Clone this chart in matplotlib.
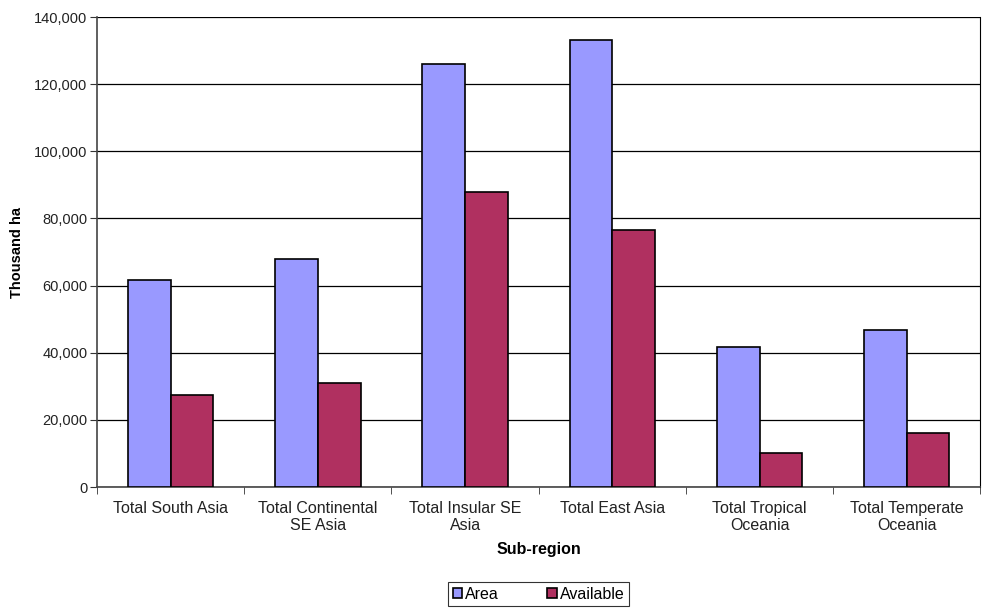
import matplotlib.pyplot as plt
import matplotlib.ticker as mticker
import numpy as np

plt.rcParams['font.family'] = ['Liberation Sans', 'DejaVu Sans']

categories = ['Total South Asia', 'Total Continental\nSE Asia', 'Total Insular SE\nAsia',
              'Total East Asia', 'Total Tropical\nOceania', 'Total Temperate\nOceania']
area = [61800, 67800, 126000, 133200, 41700, 46900]
available = [27300, 31000, 88000, 76600, 10200, 16100]

fig = plt.figure(figsize=(9.82, 6.08), dpi=100)
ax = fig.add_axes([0.0988, 0.199, 0.8995, 0.773])

x = np.arange(len(categories))
w = 0.29
ax.bar(x - w / 2, area, w, color='#9999FF', edgecolor='black', linewidth=1.2, label='Area', zorder=3)
ax.bar(x + w / 2, available, w, color='#B03060', edgecolor='black', linewidth=1.2, label='Available', zorder=3)

ax.set_xlim(-0.5, len(categories) - 0.5)
ax.set_ylim(0, 140000)
ax.yaxis.set_major_locator(mticker.MultipleLocator(20000))
ax.yaxis.set_major_formatter(mticker.FuncFormatter(lambda v, p: f'{int(v):,}'))
ax.yaxis.grid(True, color='black', linewidth=0.9, zorder=0)
ax.set_axisbelow(True)

ax.set_xticks(x)
ax.set_xticklabels(categories, fontsize=11.5, color='#222222', linespacing=1.15)
ax.set_xticks(np.arange(-0.5, len(categories)), minor=True)
ax.tick_params(axis='x', which='major', length=0, pad=10)
ax.tick_params(axis='x', which='minor', length=5, color='#333333')
ax.tick_params(axis='y', labelsize=10.5, length=5, color='#333333', pad=2, labelcolor='#222222')

for s in ('left', 'bottom'):
    ax.spines[s].set_color('#444444')
    ax.spines[s].set_linewidth(1.2)
ax.spines['top'].set_visible(False)
ax.spines['right'].set_color('black')
ax.spines['right'].set_linewidth(0.8)

ax.set_ylabel('Thousand ha', fontsize=10.5, fontweight='bold', labelpad=7)
ax.set_xlabel('Sub-region', fontsize=11.5, fontweight='bold', labelpad=7)

leg = ax.legend(loc='center', bbox_to_anchor=(0.5, -0.228), ncol=2, frameon=True, fancybox=False,
                edgecolor='black', fontsize=11.5, handlelength=0.6, handleheight=0.6,
                handletextpad=0.2, columnspacing=3.0, borderpad=0.3, borderaxespad=0)
leg.get_frame().set_linewidth(0.8)

fig.savefig('out.png', dpi=100)
